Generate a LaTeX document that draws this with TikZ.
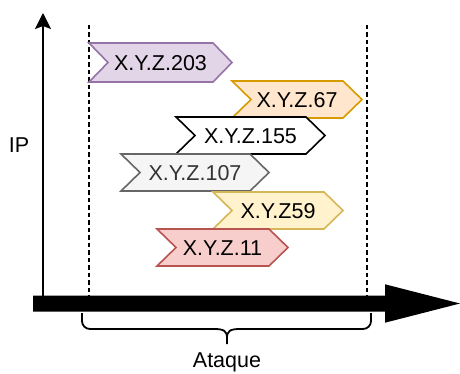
\documentclass[tikz,border=0pt]{standalone}
\usepackage{fontspec}
\setmainfont{Liberation Sans}
\usetikzlibrary{arrows.meta}
\definecolor{purpF}{HTML}{E1D5E7}\definecolor{purpD}{HTML}{9673A6}
\definecolor{oranF}{HTML}{FFE6CC}\definecolor{oranD}{HTML}{D79B00}
\definecolor{grayF}{HTML}{F5F5F5}\definecolor{grayD}{HTML}{666666}\definecolor{grayT}{HTML}{333333}
\definecolor{yellF}{HTML}{FFF2CC}\definecolor{yellD}{HTML}{D6B656}
\definecolor{redF}{HTML}{F8CECC}\definecolor{redD}{HTML}{B85450}
\newcommand{\chev}[7]{%
  \draw[#6] (#2,#4) -- (#3-19,#4) -- (#3,{(#4+#5)/2}) -- (#3-19,#5) -- (#2,#5) -- (#2+19,{(#4+#5)/2}) -- cycle;
  \node[lbl] (#1) at ({(#2+#3)/2},{(#4+#5)/2+0.5}) {#7};}
\tikzset{
  lbl/.style={font=\fontsize{21.5}{24}\selectfont, inner sep=0pt},
  chevbox/.style={line width=1.6pt, line join=miter},
  guide/.style={line width=1.7pt, dash pattern=on 4.5pt off 3pt},
}
\begin{document}
\begin{tikzpicture}[x=1pt,y=-1pt]
\useasboundingbox (0,0) rectangle (460,374);
% guides
\coordinate (gl1) at (89,25); \coordinate (gl2) at (89,296);
\coordinate (gr1) at (367,25); \coordinate (gr2) at (367,296);
\draw[guide] (gl1) -- (gl2);
\draw[guide] (gr1) -- (gr2);
% vertical axis
\coordinate (ya) at (43,296); \coordinate (yb) at (43,13);
\draw[line width=1.8pt, -{Stealth[length=16pt,width=16pt,inset=3pt]}] (ya) -- (yb);
\node[lbl] (ip) at (19,145.5) {IP};
% big arrow
\fill[black] (33,295.5) -- (385,295.5) -- (385,284.3) -- (460,303.5) -- (385,322.7) -- (385,311.7) -- (33,311.7) -- cycle;
% chevrons
\chev{a}{89}{232}{43}{82}{chevbox, fill=purpF, draw=purpD}{X.Y.Z.203}
\chev{b}{232}{362}{81}{118}{chevbox, fill=oranF, draw=oranD}{X.Y.Z.67}
\chev{c}{176}{325}{117}{154}{chevbox, fill=white, draw=black}{X.Y.Z.155}
\chev{d}{121}{269}{154}{191}{chevbox, fill=grayF, draw=grayD}{\color{grayT}X.Y.Z.107}
\chev{e}{213}{343}{192}{229}{chevbox, fill=yellF, draw=yellD}{X.Y.Z59}
\chev{f}{157}{288}{229}{266}{chevbox, fill=redF, draw=redD}{X.Y.Z.11}
% brace
\draw[line width=1.8pt] (82,313) -- (82,321) arc[start angle=180, end angle=90, radius=8] -- (214,329)
  .. controls (224,329) and (227,331) .. (227,338) -- (227,344);
\draw[line width=1.8pt] (371,313) -- (371,321) arc[start angle=0, end angle=90, radius=8] -- (240,329)
  .. controls (230,329) and (227,331) .. (227,338);
\node[lbl] (ataque) at (227,362) {Ataque};
\end{tikzpicture}
\end{document}
